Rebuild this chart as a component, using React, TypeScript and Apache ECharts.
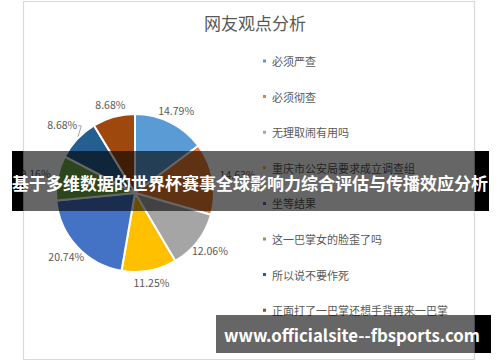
import React, { useEffect, useRef } from "react";
import * as echarts from "echarts";

const categories = [
  "必须严查",
  "必须彻查",
  "无理取闹有用吗",
  "重庆市公安局要求成立调查组",
  "坐等结果",
  "这一巴掌女的脸歪了吗",
  "所以说不要作死",
  "正面打了一巴掌还想手背再来一巴掌",
];
const shares = [14.79, 14.63, 12.06, 11.25, 20.74, 9.16, 8.68, 8.68];
const colors = ["#5B9BD5", "#ED7D31", "#A5A5A5", "#FFC000", "#4472C4", "#70AD47", "#255E91", "#9E480E"];
const leaderLineIndex = [6];
const chartTitle = "网友观点分析";
const bannerText = "基于多维数据的世界杯赛事全球影响力综合评估与传播效应分析";
const urlText = "www.officialsite--fbsports.com";

const FONT = "'Noto Sans CJK SC', 'Noto Sans', sans-serif";
const CX = 135;
const CY = 193;
const LABEL_GAP = 86;

export default function App() {
  const ref = useRef<HTMLDivElement>(null);
  useEffect(() => {
    if (!ref.current) return;
    const chart = echarts.init(ref.current, undefined, { renderer: "svg" });
    chart.setOption({
      animation: false,
      backgroundColor: "#ffffff",
      color: colors,
      title: {
        text: chartTitle,
        left: 250,
        top: 9,
        textAlign: "center",
        textStyle: { fontFamily: FONT, fontSize: 17, fontWeight: "normal", color: "#595959" },
      },
      legend: {
        orient: "vertical",
        left: 256,
        top: 49,
        icon: "rect",
        itemWidth: 5,
        itemHeight: 5,
        itemGap: 21.6,
        textStyle: { fontFamily: FONT, fontSize: 11, color: "#595959", lineHeight: 14 },
        data: categories,
      },
      series: [
        {
          type: "pie",
          center: [CX, CY],
          radius: 79,
          startAngle: 90,
          clockwise: true,
          itemStyle: { borderColor: "#ffffff", borderWidth: 2 },
          label: {
            show: true,
            position: "outside",
            formatter: (p: any) => p.value.toFixed(2) + "%",
            fontFamily: FONT,
            fontSize: 10.5,
            color: "#595959",
          },
          labelLine: { show: true, length: 5, length2: 2, lineStyle: { opacity: 0, width: 0 } },
          labelLayout: (params: any) => {
            const pts = params.labelLinePoints;
            if (!pts || !pts[0]) return {};
            const dx = pts[0][0] - CX;
            const dy = pts[0][1] - CY;
            const len = Math.hypot(dx, dy) || 1;
            const ux = dx / len;
            const uy = dy / len;
            const hw = params.labelRect.width / 2;
            const hh = params.labelRect.height / 2;
            const t = Math.min(
              Math.abs(ux) > 1e-6 ? hw / Math.abs(ux) : 1e9,
              Math.abs(uy) > 1e-6 ? hh / Math.abs(uy) : 1e9
            );
            const withLine = leaderLineIndex.includes(params.dataIndex);
            const d = LABEL_GAP + t + (withLine ? 6 : 0);
            const x = CX + ux * d;
            const y = CY + uy * d;
            const res: any = { x, y, align: "center", verticalAlign: "middle" };
            if (withLine) {
              res.labelLinePoints = [
                [x + hw + 1, y + 1],
                [x + hw + 4, y + 1],
                [pts[0][0], pts[0][1]],
              ];
            }
            return res;
          },
          data: categories.map((c, i) => ({
            name: c,
            value: shares[i],
            labelLine: leaderLineIndex.includes(i)
              ? { lineStyle: { opacity: 1, width: 1, color: "#A6A6A6" } }
              : undefined,
          })),
        },
      ],
      graphic: [
        {
          type: "rect",
          z: 1,
          shape: { x: 23.5, y: 1.5, width: 451, height: 358 },
          style: { fill: "none", stroke: "#D9D9D9", lineWidth: 1.2 },
        },
        { type: "rect", z: 100, shape: { x: 12, y: 151, width: 11.5, height: 60 }, style: { fill: "#000000" } },
        { type: "rect", z: 100, shape: { x: 23.5, y: 151, width: 451, height: 60 }, style: { fill: "rgba(0,0,0,0.6)" } },
        { type: "rect", z: 100, shape: { x: 474.5, y: 151, width: 14.5, height: 60 }, style: { fill: "#000000" } },
        {
          type: "text",
          z: 101,
          x: 250,
          y: 182,
          style: {
            text: bannerText,
            fill: "#ffffff",
            font: `bold 17px ${FONT}`,
            align: "center",
            verticalAlign: "middle",
          },
        },
        { type: "rect", z: 100, shape: { x: 216, y: 315, width: 258.5, height: 38 }, style: { fill: "rgba(0,0,0,0.6)" } },
        { type: "rect", z: 100, shape: { x: 474.5, y: 315, width: 16.5, height: 38 }, style: { fill: "#000000" } },
        {
          type: "text",
          z: 101,
          x: 352,
          y: 335,
          style: {
            text: urlText,
            fill: "#ffffff",
            font: `bold 16.8px ${FONT}`,
            align: "center",
            verticalAlign: "middle",
          },
        },
      ],
    });
    return () => chart.dispose();
  }, []);
  return <div ref={ref} style={{ position: "fixed", left: 0, top: 0, width: 500, height: 362 }} />;
}
